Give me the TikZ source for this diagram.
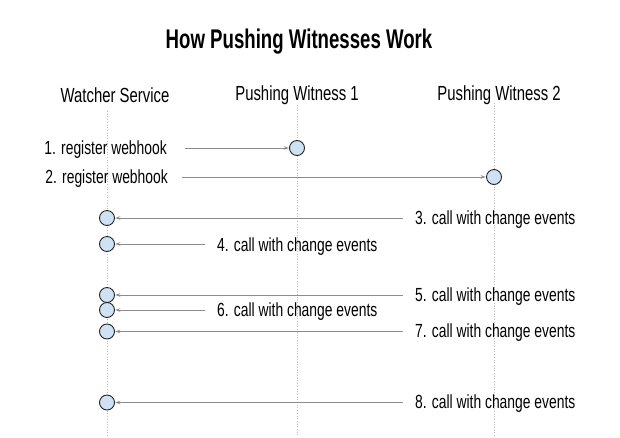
\documentclass[tikz,border=0pt]{standalone}
\usepackage{fontspec}
\setmainfont[FakeStretch=0.73]{Liberation Sans}
\newfontfamily\titlefont[FakeStretch=0.69]{Liberation Sans}
\usetikzlibrary{arrows.meta}
\definecolor{circfill}{HTML}{CFE2F3}
\definecolor{circline}{HTML}{222222}
\definecolor{msgline}{HTML}{8C8C8C}
\definecolor{lifeline}{HTML}{BBBBBB}
\begin{document}
\begin{tikzpicture}[x=1pt,y=-1pt,
  titlestyle/.style={font=\titlefont\bfseries\fontsize{27}{30}\selectfont, inner sep=0pt},
  headstyle/.style={font=\fontsize{20.4}{23}\selectfont, inner sep=0pt},
  lbl/.style={font=\fontsize{19}{22}\selectfont, inner sep=0pt},
  act/.style={circle, draw=circline, fill=circfill, line width=0.9pt, minimum size=15pt, inner sep=0pt},
  msg/.style={draw=msgline, line width=0.8pt, -{Stealth[length=5pt,width=3.5pt,fill=lightgray!80!gray]}, shorten >=0.3pt},
  life/.style={draw=lifeline, line width=0.7pt, dotted}
]
\useasboundingbox (0,0) rectangle (620,437);
\fill[white] (0,0) rectangle (620,437);

\node[titlestyle] (title) at (299,42) {How Pushing Witnesses Work};
\node[headstyle] (hw) at (115,95) {Watcher Service};
\node[headstyle] (h1) at (297,95) {Pushing Witness 1};
\node[headstyle] (h2) at (499,95) {Pushing Witness 2};

% lifelines
\coordinate (wtop) at (107,111);
\coordinate (wbot) at (107,437);
\coordinate (p1top) at (297,105);
\coordinate (p1bot) at (297,437);
\coordinate (p2top) at (494,103);
\coordinate (p2bot) at (494,437);
\draw[life] (wtop) -- (wbot);
\draw[life] (p1top) -- (p1bot);
\draw[life] (p2top) -- (p2bot);

% activation circles
\node[act] (c1) at (297,148) {};
\node[act] (c2) at (494,177) {};
\node[act] (c3) at (107,218) {};
\node[act] (c4) at (107,244) {};
\node[act] (c5) at (107,295) {};
\node[act] (c6) at (107,310) {};
\node[act] (c7) at (107,331.5) {};
\node[act] (c8) at (107,402.5) {};

% message start points
\coordinate (s1) at (185,148);
\coordinate (s2) at (182,177);
\coordinate (s3) at (403,218);
\coordinate (s4) at (205,244);
\coordinate (s5) at (403,295);
\coordinate (s6) at (205,310);
\coordinate (s7) at (403,331.5);
\coordinate (s8) at (403,402.5);

\draw[msg] (s1) -- (c1);
\draw[msg] (s2) -- (c2);
\draw[msg] (s3) -- (c3);
\draw[msg] (s4) -- (c4);
\draw[msg] (s5) -- (c5);
\draw[msg] (s6) -- (c6);
\draw[msg] (s7) -- (c7);
\draw[msg] (s8) -- (c8);

% labels
\node[lbl, anchor=east] (l1) at (167,150) {1. register webhook};
\node[lbl, anchor=east] (l2) at (168,179) {2. register webhook};
\node[lbl, anchor=west] (l3) at (415,220) {3. call with change events};
\node[lbl, anchor=west] (l4) at (217,247) {4. call with change events};
\node[lbl, anchor=west] (l5) at (415,297) {5. call with change events};
\node[lbl, anchor=west] (l6) at (217,312) {6. call with change events};
\node[lbl, anchor=west] (l7) at (415,333) {7. call with change events};
\node[lbl, anchor=west] (l8) at (415,404) {8. call with change events};
\end{tikzpicture}
\end{document}
